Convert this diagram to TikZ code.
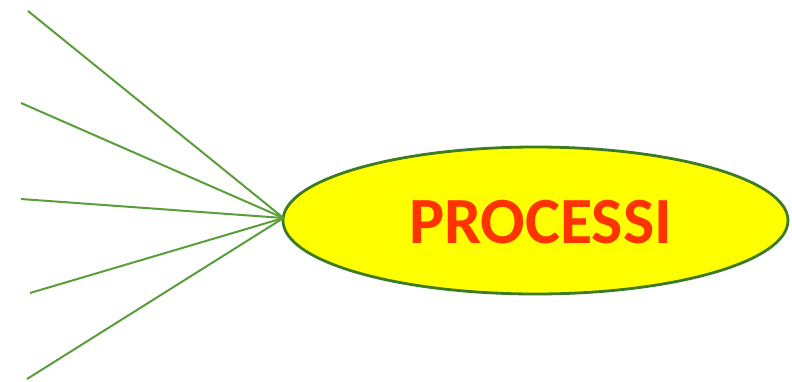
\documentclass[tikz,border=0pt]{standalone}
\usepackage{fontspec}
\setmainfont{Carlito}
\usetikzlibrary{shapes.geometric}
\definecolor{lineg}{HTML}{5A9E3A}
\definecolor{borderg}{HTML}{3E7A22}
\definecolor{fillY}{HTML}{FFFF00}
\definecolor{txtR}{HTML}{FF3300}
\tikzset{
  ray/.style={draw=lineg, line width=2pt},
  bubble/.style={ellipse, draw=borderg, line width=2.8pt, fill=fillY, inner sep=0pt,
    minimum width=505pt, minimum height=147pt},
}
\begin{document}
\begin{tikzpicture}[x=1pt,y=-1pt]
\useasboundingbox (0,0) rectangle (792,381);
\node[bubble] (e) at (535.5,220.5) {};
\node[text=txtR, font=\fontsize{66}{76}\selectfont\bfseries, inner sep=0pt] (t) at (540.5,222) {PROCESSI};
\coordinate (a1) at (28,11);
\coordinate (a2) at (21,103);
\coordinate (a3) at (21,199);
\coordinate (a4) at (30,293);
\coordinate (a5) at (27,379);
\coordinate (c) at (283.5,218);
\foreach \i in {1,...,5} \draw[ray] (a\i) -- (c);
\end{tikzpicture}
\end{document}
